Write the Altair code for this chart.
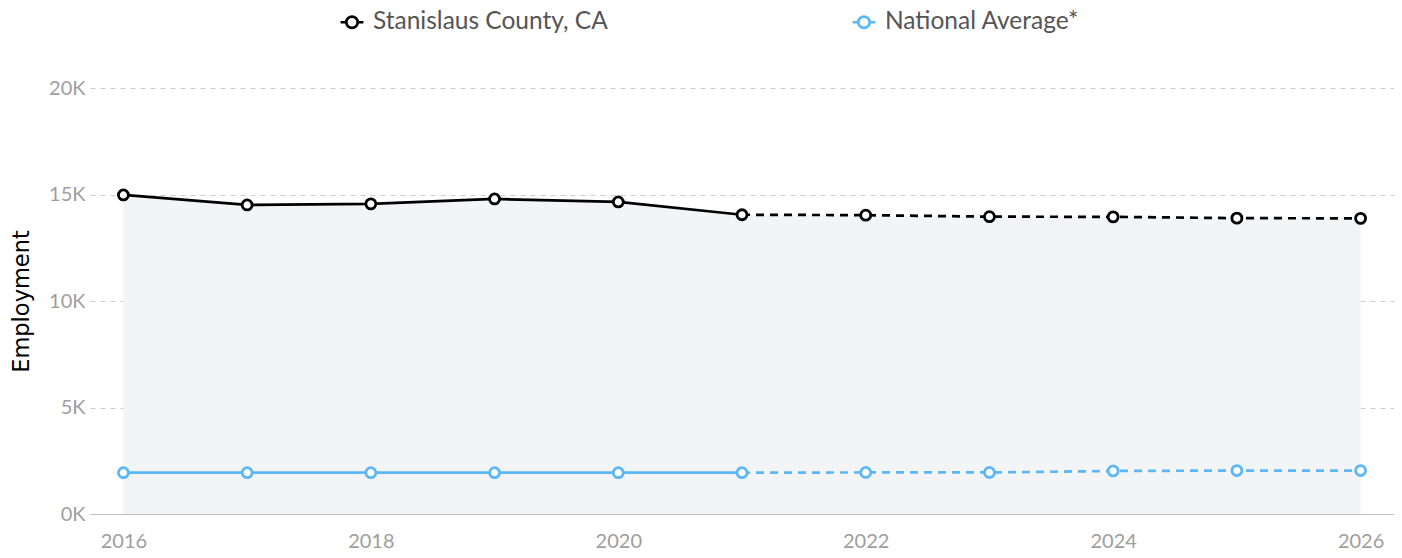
import altair as alt
import pandas as pd

years = [2016, 2017, 2018, 2019, 2020, 2021, 2022, 2023, 2024, 2025, 2026]
stanislaus = [14980, 14510, 14560, 14790, 14650, 14050, 14030, 13960, 13950, 13890, 13880]
national = [1940, 1940, 1940, 1940, 1940, 1940, 1950, 1950, 2020, 2040, 2040]
series_names = ["Stanislaus County, CA", "National Average*"]
series_colors = ["#000000", "#5cb7f7"]
last_actual = 2021
y_ticks = [0, 5000, 10000, 15000, 20000]
x_ticks = [2016, 2018, 2020, 2022, 2024, 2026]

rows = []
for name, vals in zip(series_names, [stanislaus, national]):
    for yr, v in zip(years, vals):
        rows.append({"series": name, "year": yr, "value": v})
df = pd.DataFrame(rows)

x_enc = alt.X("year:Q",
              scale=alt.Scale(domain=[2015.73, 2026.27], nice=False, zero=False),
              axis=alt.Axis(values=x_ticks, format="d", title=None, grid=False,
                            ticks=False, labelPadding=17, domainColor="#bdbdbd",
                            domainWidth=1))
y_enc = alt.Y("value:Q",
              scale=alt.Scale(domain=[0, 20000], nice=False),
              axis=alt.Axis(values=y_ticks, title="Employment",
                            labelExpr="datum.value / 1000 + 'K'",
                            grid=True, gridDash=[5, 5], gridColor="#cccccc",
                            ticks=False, domain=False, labelPadding=5,
                            titlePadding=15, titleFont="DejaVu Sans",
                            titleFontSize=22.5, titleFontWeight="normal",
                            titleColor="#000000"))

color_scale = alt.Scale(domain=series_names, range=series_colors)

symbol_path = ("M-1,0L-0.5,0M0.5,0L1,0M-0.5,0A0.5,0.5,0,1,1,0.5,0"
               "A0.5,0.5,0,1,1,-0.5,0Z")

base = alt.Chart(df)

area = base.transform_filter(alt.datum.series == series_names[0]).mark_area(
    color="#f3f4f6", opacity=1
).encode(x=x_enc, y=y_enc)

line_actual = base.transform_filter(alt.datum.year <= last_actual).mark_line(
    strokeWidth=2.7
).encode(
    x=x_enc, y=y_enc,
    color=alt.Color("series:N", scale=color_scale, sort=series_names,
                    legend=alt.Legend(title=None, orient="none", legendX=249,
                                      legendY=-79, direction="horizontal",
                                      symbolType=symbol_path, symbolSize=520,
                                      symbolStrokeWidth=2.7,
                                      symbolFillColor="white",
                                      labelFont="Lato", labelFontSize=24.5,
                                      labelColor="#555555", labelLimit=600,
                                      labelOffset=8, columnPadding=239,
                                      padding=0))
)

line_proj = base.transform_filter(alt.datum.year >= last_actual).mark_line(
    strokeWidth=2.7, strokeDash=[8, 6]
).encode(
    x=x_enc, y=y_enc,
    color=alt.Color("series:N", scale=color_scale, sort=series_names, legend=None)
)

points = base.mark_point(
    filled=False, fill="white", fillOpacity=1, size=100, strokeWidth=2.8, opacity=1
).encode(
    x=x_enc, y=y_enc,
    stroke=alt.Stroke("series:N", scale=color_scale, sort=series_names, legend=None)
)

chart = alt.layer(area, line_actual, line_proj, points).properties(
    width=1304, height=426,
    autosize=alt.AutoSizeParams(type="none"),
    padding={"left": 82, "top": 80, "right": 0, "bottom": 36},
).configure_view(stroke=None).configure_axis(
    labelFont="Lato", labelFontSize=20, labelColor="#9e9e9e"
)

chart.save("out.html", embed_options={"renderer": "svg", "actions": False})
